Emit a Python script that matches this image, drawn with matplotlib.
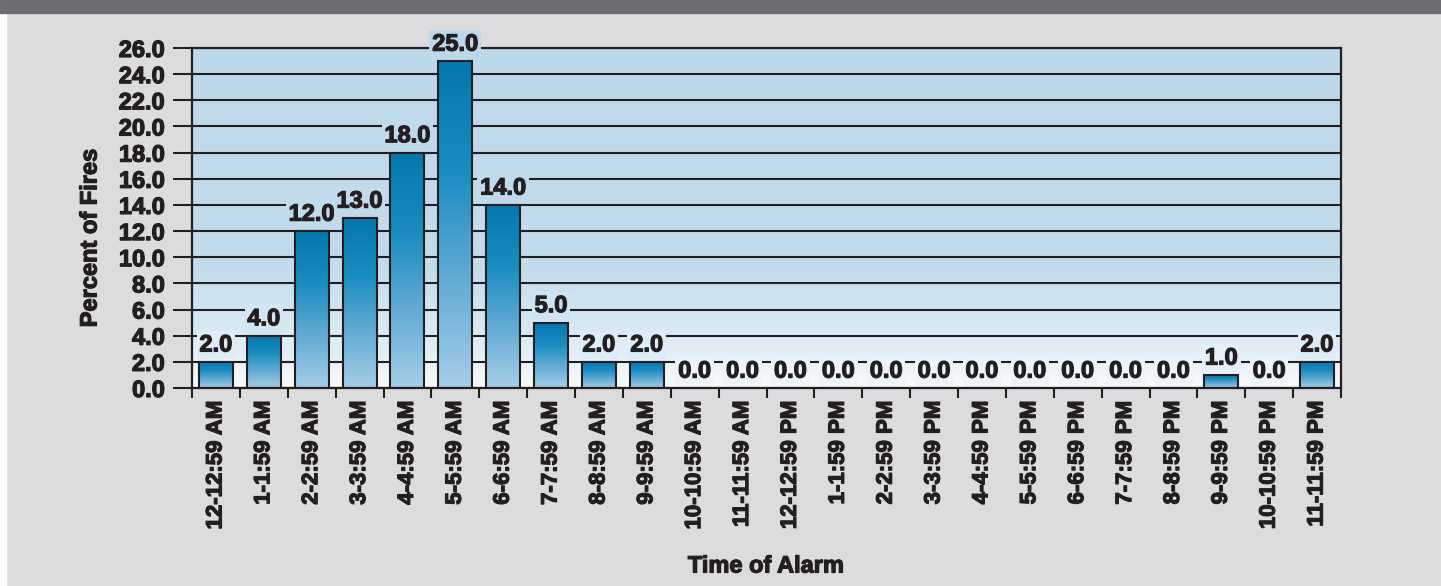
import numpy as np
import matplotlib
matplotlib.use("Agg")
import matplotlib.pyplot as plt
import matplotlib.patheffects as pe
from matplotlib.colors import LinearSegmentedColormap
from matplotlib.patches import Rectangle

# dane z wykresu
hours = ["12-12:59 AM", "1-1:59 AM", "2-2:59 AM", "3-3:59 AM", "4-4:59 AM",
         "5-5:59 AM", "6-6:59 AM", "7-7:59 AM", "8-8:59 AM", "9-9:59 AM",
         "10-10:59 AM", "11-11:59 AM", "12-12:59 PM", "1-1:59 PM", "2-2:59 PM",
         "3-3:59 PM", "4-4:59 PM", "5-5:59 PM", "6-6:59 PM", "7-7:59 PM",
         "8-8:59 PM", "9-9:59 PM", "10-10:59 PM", "11-11:59 PM"]
percent = [2.0, 4.0, 12.0, 13.0, 18.0, 25.0, 14.0, 5.0, 2.0, 2.0,
           0.0, 0.0, 0.0, 0.0, 0.0, 0.0, 0.0, 0.0, 0.0, 0.0,
           0.0, 1.0, 0.0, 2.0]
y_ticks = np.arange(0, 27, 2)

plt.rcParams['font.family'] = ['Liberation Sans', 'DejaVu Sans']
plt.rcParams['font.weight'] = 'bold'
ink = '#231f20'
# pogrubienie tekstu
heavy = [pe.withStroke(linewidth=0.9, foreground=ink)]

fig = plt.figure(figsize=(14.41, 5.86), dpi=100)
fig.patch.set_facecolor('#dcdcde')
fig.patches.append(Rectangle((0, 0), 6 / 1441, 1, transform=fig.transFigure,
                             color='white', zorder=0))
fig.patches.append(Rectangle((0, 1 - 13 / 586), 1, 13 / 586, transform=fig.transFigure,
                             color='#6d6c71', zorder=1))

ax = fig.add_axes([192 / 1441, 1 - 388 / 586, (1341 - 192) / 1441, 340 / 586])

# tło z gradientem
bg_cmap = LinearSegmentedColormap.from_list(
    'bg', [(0, '#f8fbfd'), (0.12, '#dfedf6'), (0.35, '#c3dcec'), (1, '#bdd8ea')])
grad = np.linspace(0, 1, 256).reshape(-1, 1)
ax.imshow(grad, cmap=bg_cmap, origin='lower', aspect='auto',
          extent=(-0.5, len(hours) - 0.5, 0, 26), zorder=0)

ax.set_yticks(y_ticks)
ax.set_yticklabels([f"{v:.1f}" for v in y_ticks], fontsize=17, fontweight='bold', color=ink)
ax.grid(axis='y', color=ink, lw=1.5, zorder=0.5)
ax.tick_params(axis='y', length=13.5, width=1.5, color=ink, pad=6)

ax.set_xticks(np.arange(-0.5, len(hours), 1))
ax.set_xticklabels([])
ax.set_xticks(np.arange(len(hours)), minor=True)
ax.set_xticklabels(hours, minor=True, rotation=90, fontsize=16, fontweight='bold', color=ink)
ax.tick_params(axis='x', which='major', length=7, width=1.5, color=ink)
ax.tick_params(axis='x', which='minor', length=0, pad=9)
for t in ax.get_yticklabels() + ax.get_xticklabels(minor=True):
    t.set_path_effects(heavy)

for s in ax.spines.values():
    s.set_color(ink)
    s.set_linewidth(1.6)
    s.set_zorder(4)

# słupki z gradientem
bar_cmap = LinearSegmentedColormap.from_list(
    'bar', ['#a6cee7', '#62abd4', '#1a8cc0', '#0677ad'])
width = 0.71
x = np.arange(len(hours))
bars = ax.bar(x, percent, width=width, facecolor='none', edgecolor=ink, lw=1.5, zorder=3)
for b, v in zip(bars, percent):
    if v <= 0:
        continue
    im = ax.imshow(grad, cmap=bar_cmap, origin='lower', aspect='auto',
                   extent=(b.get_x(), b.get_x() + width, 0, v), zorder=2)
    im.set_clip_path(b)

ax.set_xlim(-0.5, len(hours) - 0.5)
ax.set_ylim(0, 26)

# etykiety wartości
for xi, v in zip(x, percent):
    frac = min(v / 26 + 0.06, 1.0)
    fc = bg_cmap(float(frac))
    ax.annotate(f"{v:.1f}", (xi, v), xytext=(0, 7.5), textcoords='offset points',
                ha='center', va='baseline', fontsize=17, fontweight='bold', color=ink,
                bbox=dict(boxstyle='square,pad=0.12', fc=fc, ec='none'), zorder=5,
                annotation_clip=False, path_effects=heavy)

fig.text(90 / 1441, 1 - 238 / 586, "Percent of Fires", rotation=90, ha='center', va='center',
         fontsize=17, fontweight='bold', color=ink, path_effects=heavy)
fig.text(766 / 1441, 1 - 566 / 586, "Time of Alarm", ha='center', va='center',
         fontsize=17, fontweight='bold', color=ink, path_effects=heavy)

fig.savefig("out.png", dpi=100, facecolor=fig.get_facecolor())
